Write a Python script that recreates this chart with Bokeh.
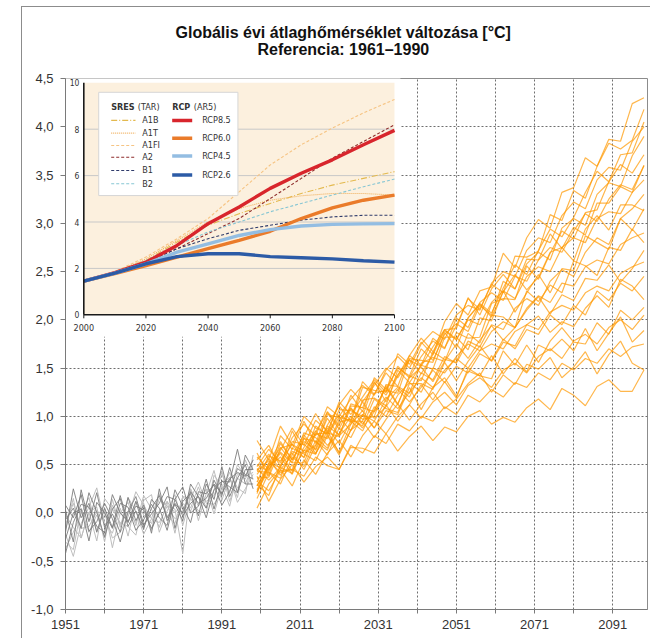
from bokeh.plotting import figure
from bokeh.models import Range1d, FixedTicker, Title, CustomJSTickFormatter
from bokeh.core.properties import value
from bokeh.embed import file_html
from bokeh.resources import INLINE

# ---------------- data ----------------
TITLE_1 = "Globális évi átlaghőmérséklet változása [°C]"
TITLE_2 = "Referencia: 1961–1990"

X_TICKS = [1951, 1961, 1971, 1981, 1991, 2001, 2011, 2021, 2031, 2041, 2051, 2061, 2071, 2081, 2091]
X_LABELS = ["1951", "", "1971", "", "1991", "", "2011", "", "2031", "", "2051", "", "2071", "", "2091"]
Y_TICKS = [-1.0, -0.5, 0.0, 0.5, 1.0, 1.5, 2.0, 2.5, 3.0, 3.5, 4.0, 4.5]

HIST_YEARS = [1951, 1953, 1955, 1957, 1959, 1961, 1963, 1965, 1967, 1969, 1971, 1973, 1975,
              1977, 1979, 1981, 1983, 1985, 1987, 1989, 1991, 1993, 1995, 1997, 1999]
HIST_DARK_1 = [0.03, -0.30, 0.24, -0.09, 0.21, -0.15, -0.01, -0.20, 0.16, -0.08, 0.08, -0.21, 0.25, -0.08, 0.09, -0.08, 0.30, 0.17, 0.05, 0.34, 0.18, 0.47, 0.21, 0.45, 0.45]
HIST_DARK_2 = [-0.07, 0.05, -0.16, 0.21, 0.01, -0.25, 0.04, 0.15, -0.14, 0.02, -0.17, 0.14, 0.05, -0.18, 0.14, 0.27, 0.00, 0.07, 0.35, 0.04, 0.33, 0.32, 0.66, 0.30, 0.30]
HIST_DARK_3 = [0.08, -0.05, 0.19, -0.19, -0.09, 0.10, -0.06, -0.30, 0.01, 0.17, -0.12, -0.01, 0.10, 0.27, -0.16, 0.12, 0.20, -0.03, 0.30, 0.14, 0.48, 0.17, 0.36, 0.50, 0.25]
HIST_DARK_4 = [-0.27, 0.00, 0.04, -0.29, 0.11, 0.00, -0.16, 0.10, 0.06, -0.18, -0.07, 0.09, -0.05, -0.13, 0.24, 0.07, -0.10, 0.22, 0.20, 0.29, 0.08, 0.22, 0.46, 0.40, 0.35]
HIST_DARK_5 = [-0.42, -0.10, 0.09, 0.06, -0.14, -0.20, 0.19, 0.00, -0.09, 0.07, 0.03, -0.16, 0.00, 0.17, 0.14, -0.03, 0.10, 0.17, -0.05, 0.24, 0.33, 0.27, 0.21, 0.60, 0.45]
HIST_DARK_6 = [-0.20, 0.25, -0.05, 0.10, -0.20, 0.05, -0.15, 0.18, -0.10, 0.12, -0.15, 0.05, 0.18, -0.05, 0.10, 0.00, 0.22, 0.10, 0.15, 0.30, 0.20, 0.35, 0.42, 0.38, 0.55]
HIST_LIGHT_1 = [-0.37, -0.20, -0.01, 0.16, -0.19, 0.05, -0.36, 0.00, 0.11, -0.13, 0.18, 0.04, -0.15, 0.12, -0.21, 0.17, 0.05, 0.27, 0.05, 0.24, 0.43, 0.12, 0.36, 0.30, 0.50]
HIST_LIGHT_2 = [-0.22, -0.45, -0.11, 0.06, 0.26, -0.10, -0.21, 0.05, -0.24, 0.12, -0.02, -0.11, 0.15, 0.07, -0.06, 0.02, 0.25, -0.08, 0.20, 0.44, 0.13, 0.37, 0.16, 0.55, 0.35]
HIST_LIGHT_3 = [-0.17, 0.15, -0.26, 0.01, -0.29, 0.15, 0.04, -0.10, -0.14, -0.23, 0.13, 0.19, -0.20, 0.02, 0.19, -0.13, 0.15, 0.32, 0.10, 0.09, 0.23, 0.42, 0.26, 0.20, 0.60]
HIST_LIGHT_4 = [-0.02, -0.15, -0.26, 0.01, 0.06, -0.30, 0.14, -0.15, 0.16, 0.02, -0.22, -0.06, 0.20, -0.03, -0.11, 0.17, 0.15, 0.02, 0.00, 0.39, 0.28, 0.07, 0.41, 0.35, 0.55]
HIST_LIGHT_5 = [-0.12, 0.10, -0.16, -0.14, 0.01, 0.00, -0.26, -0.20, -0.04, 0.22, 0.08, -0.06, -0.10, 0.07, 0.04, -0.42, 0.25, 0.07, 0.25, -0.01, 0.28, 0.37, 0.11, 0.25, 0.40]
HIST_LIGHT_6 = [-0.30, -0.38, 0.05, -0.20, -0.02, -0.25, 0.08, -0.12, 0.02, -0.10, 0.10, -0.18, 0.02, 0.12, 0.00, 0.10, 0.02, 0.20, 0.12, 0.18, 0.40, 0.22, 0.50, 0.38, 0.42]

PROJ_YEARS = [2000, 2003, 2006, 2009, 2012, 2015, 2018, 2021, 2024, 2027, 2030, 2033, 2036, 2039, 2042, 2045, 2048,
              2051, 2054, 2057, 2060, 2063, 2066, 2069, 2072, 2075, 2078, 2081, 2084, 2087, 2090, 2093, 2096, 2099]
PROJ_H1 = [0.50, 0.43, 0.72, 0.55, 0.79, 1.03, 0.83, 1.02, 0.94, 1.30, 1.27, 1.25, 1.65, 1.54, 1.77, 1.64, 1.98, 2.17, 2.05, 2.30, 2.34, 2.69, 2.54, 2.85, 3.04, 2.95, 3.32, 3.37, 3.68, 3.59, 3.87, 3.85, 4.24, 4.30]
PROJ_H2 = [0.32, 0.59, 0.54, 0.71, 0.57, 0.84, 1.04, 0.87, 1.11, 1.09, 1.36, 1.15, 1.42, 1.63, 1.53, 1.81, 1.71, 1.94, 2.22, 2.11, 2.37, 2.28, 2.66, 2.65, 2.71, 3.09, 3.03, 3.34, 3.26, 3.59, 3.83, 3.77, 3.86, 4.18]
PROJ_H3 = [0.44, 0.61, 0.45, 0.60, 0.81, 0.65, 0.91, 1.11, 0.95, 0.95, 1.24, 1.27, 1.24, 1.60, 1.58, 1.56, 1.87, 1.71, 2.02, 2.17, 2.07, 2.33, 2.57, 2.47, 2.72, 2.94, 2.86, 3.06, 3.32, 3.54, 3.43, 3.71, 3.73, 4.05]
PROJ_H4 = [0.28, 0.48, 0.63, 0.52, 0.83, 0.78, 0.67, 0.97, 1.08, 0.97, 1.00, 1.33, 1.31, 1.24, 1.55, 1.61, 1.57, 1.87, 1.81, 1.82, 2.17, 2.22, 2.21, 2.56, 2.42, 2.69, 2.92, 2.84, 3.11, 3.14, 3.43, 3.61, 3.52, 3.71]
PROJ_H5 = [0.62, 0.38, 0.80, 0.66, 0.95, 0.72, 1.05, 0.90, 1.22, 1.05, 1.40, 1.28, 1.50, 1.42, 1.70, 1.58, 1.85, 1.96, 1.88, 2.15, 2.05, 2.40, 2.32, 2.58, 2.70, 2.62, 2.95, 3.05, 2.98, 3.30, 3.42, 3.38, 3.70, 3.90]
PROJ_H6 = [0.48, 0.66, 0.52, 0.78, 0.92, 0.80, 1.10, 1.00, 1.18, 1.32, 1.22, 1.48, 1.62, 1.50, 1.75, 1.88, 1.80, 2.05, 2.15, 2.10, 2.38, 2.50, 2.45, 2.72, 2.85, 2.80, 3.08, 3.22, 3.15, 3.45, 3.58, 3.55, 3.85, 4.00]
PROJ_M1 = [0.28, 0.51, 0.74, 0.55, 0.74, 0.66, 1.02, 0.99, 0.96, 1.36, 1.23, 1.45, 1.31, 1.63, 1.81, 1.67, 1.90, 1.91, 2.23, 2.05, 2.32, 2.47, 2.32, 2.63, 2.62, 2.89, 2.74, 2.96, 2.88, 3.21, 3.21, 3.38, 3.32, 3.60]
PROJ_M2 = [0.36, 0.37, 0.67, 0.71, 0.64, 0.82, 0.77, 1.07, 1.06, 1.00, 1.35, 1.22, 1.43, 1.59, 1.44, 1.64, 1.89, 1.79, 2.02, 2.16, 2.03, 2.29, 2.47, 2.31, 2.44, 2.70, 2.75, 2.61, 2.94, 3.08, 2.93, 3.19, 3.19, 3.13]
PROJ_M3 = [0.40, 0.56, 0.39, 0.64, 0.58, 0.90, 0.81, 0.99, 0.85, 1.17, 1.19, 1.11, 1.48, 1.35, 1.53, 1.49, 1.82, 1.82, 1.69, 2.02, 1.99, 2.30, 2.08, 2.28, 2.47, 2.28, 2.53, 2.51, 2.87, 2.80, 2.73, 3.05, 2.93, 3.15]
PROJ_M4 = [0.46, 0.34, 0.47, 0.74, 0.71, 0.61, 0.90, 0.81, 1.09, 0.92, 1.07, 1.30, 1.12, 1.42, 1.37, 1.67, 1.59, 1.56, 1.86, 1.76, 2.05, 2.03, 1.92, 2.30, 2.19, 2.36, 2.28, 2.61, 2.56, 2.46, 2.75, 2.72, 2.94, 2.80]
PROJ_M5 = [0.15, 0.42, 0.30, 0.58, 0.48, 0.75, 0.60, 0.88, 0.78, 1.02, 0.95, 1.18, 1.30, 1.20, 1.45, 1.38, 1.62, 1.55, 1.78, 1.72, 1.95, 1.90, 2.12, 2.22, 2.15, 2.40, 2.52, 2.45, 2.70, 2.85, 2.78, 3.05, 3.15, 3.30]
PROJ_M6 = [0.75, 0.55, 0.90, 0.70, 1.00, 0.88, 0.82, 1.15, 1.02, 1.20, 1.38, 1.25, 1.52, 1.40, 1.62, 1.78, 1.70, 2.02, 1.92, 2.18, 2.28, 2.20, 2.45, 2.40, 2.62, 2.75, 2.70, 2.92, 3.10, 3.02, 3.25, 3.40, 3.35, 3.60]
PROJ_M7 = [0.30, 0.18, 0.50, 0.62, 0.45, 0.70, 0.88, 0.72, 0.95, 0.85, 1.10, 1.00, 1.22, 1.35, 1.25, 1.50, 1.45, 1.62, 1.75, 1.68, 1.88, 1.98, 1.92, 2.12, 2.25, 2.18, 2.38, 2.35, 2.55, 2.62, 2.58, 2.78, 2.85, 2.90]
PROJ_M8 = [0.58, 0.45, 0.65, 0.88, 0.70, 0.96, 0.85, 1.12, 1.28, 1.15, 1.32, 1.50, 1.40, 1.58, 1.52, 1.72, 1.90, 1.80, 2.00, 1.95, 2.18, 2.30, 2.22, 2.45, 2.55, 2.50, 2.75, 2.85, 2.80, 3.05, 3.12, 3.10, 3.32, 3.45]
PROJ_L1 = [0.24, 0.49, 0.68, 0.52, 0.52, 0.82, 0.83, 0.79, 1.13, 1.09, 1.05, 1.32, 1.13, 1.40, 1.51, 1.36, 1.57, 1.75, 1.60, 1.79, 1.94, 1.79, 1.92, 2.10, 2.24, 2.06, 2.26, 2.20, 2.43, 2.41, 2.57, 2.39, 2.53, 2.72]
PROJ_L2 = [0.44, 0.54, 0.42, 0.45, 0.77, 0.74, 0.65, 0.94, 0.97, 0.90, 1.18, 1.08, 1.04, 1.34, 1.34, 1.28, 1.56, 1.37, 1.57, 1.73, 1.57, 1.77, 1.73, 1.95, 2.04, 1.87, 1.98, 1.93, 2.12, 2.25, 2.13, 2.42, 2.35, 2.21]
PROJ_L3 = [0.22, 0.45, 0.62, 0.43, 0.65, 0.61, 0.85, 0.62, 0.86, 1.02, 0.88, 1.12, 0.95, 1.12, 1.33, 1.17, 1.36, 1.19, 1.50, 1.42, 1.39, 1.68, 1.53, 1.74, 1.56, 1.78, 1.92, 1.77, 1.75, 1.97, 1.85, 2.10, 2.00, 2.13]
PROJ_L4 = [0.20, 0.52, 0.47, 0.41, 0.78, 0.62, 0.81, 0.63, 0.92, 1.06, 0.88, 1.06, 1.02, 1.30, 1.07, 1.30, 1.40, 1.21, 1.47, 1.42, 1.63, 1.44, 1.60, 1.46, 1.74, 1.68, 1.80, 1.68, 1.91, 1.68, 1.86, 2.03, 1.77, 1.89]
PROJ_L5 = [0.43, 0.42, 0.36, 0.67, 0.61, 0.54, 0.80, 0.60, 0.86, 0.95, 0.78, 0.97, 1.13, 0.96, 1.13, 1.25, 1.08, 1.18, 1.34, 1.45, 1.25, 1.43, 1.33, 1.54, 1.49, 1.61, 1.40, 1.51, 1.67, 1.44, 1.64, 1.78, 1.55, 1.48]
PROJ_L6 = [0.33, 0.23, 0.44, 0.45, 0.38, 0.58, 0.49, 0.45, 0.68, 0.67, 0.62, 0.82, 0.64, 0.79, 0.90, 0.75, 0.89, 0.84, 1.00, 1.06, 0.92, 0.99, 0.94, 1.09, 1.18, 1.07, 1.29, 1.22, 1.11, 1.31, 1.38, 1.26, 1.26, 1.48]
PROJ_L7 = [0.55, 0.70, 0.48, 0.85, 0.62, 0.70, 0.98, 0.80, 0.92, 1.15, 0.98, 1.10, 1.28, 1.15, 1.30, 1.48, 1.35, 1.52, 1.45, 1.65, 1.58, 1.80, 1.70, 1.90, 1.85, 2.05, 1.95, 2.15, 2.05, 2.30, 2.20, 2.38, 2.30, 2.45]
PROJ_L8 = [0.05, 0.30, 0.45, 0.28, 0.55, 0.40, 0.62, 0.75, 0.58, 0.80, 0.95, 0.82, 1.00, 1.12, 0.98, 1.15, 1.25, 1.12, 1.32, 1.40, 1.30, 1.48, 1.55, 1.45, 1.62, 1.70, 1.60, 1.78, 1.85, 1.75, 1.92, 2.00, 1.90, 2.05]
PROJ_L9 = [0.38, 0.12, 0.35, 0.50, 0.32, 0.48, 0.58, 0.45, 0.70, 0.62, 0.80, 0.72, 0.92, 0.85, 1.00, 0.95, 1.10, 1.02, 1.22, 1.15, 1.28, 1.20, 1.35, 1.30, 1.45, 1.38, 1.55, 1.48, 1.60, 1.55, 1.70, 1.62, 1.72, 1.75]
PROJ_L10 = [0.22, 0.48, 0.58, 0.40, 0.68, 0.85, 0.70, 0.82, 1.00, 0.88, 1.05, 1.20, 1.08, 1.25, 1.40, 1.30, 1.48, 1.60, 1.50, 1.68, 1.75, 1.70, 1.88, 1.95, 1.90, 2.08, 2.15, 2.10, 2.28, 2.35, 2.30, 2.48, 2.55, 2.60]

# inset (IPCC style scenarios)
INSET_YEARS = [2000, 2010, 2020, 2030, 2040, 2050, 2060, 2070, 2080, 2090, 2100]
SRES_A1B = [1.45, 1.84, 2.34, 3.14, 3.86, 4.36, 4.80, 5.23, 5.59, 5.88, 6.17]
SRES_A1T = [1.45, 1.84, 2.41, 3.21, 4.00, 4.58, 4.94, 5.13, 5.23, 5.23, 5.16]
SRES_A1FI = [1.45, 1.86, 2.49, 3.28, 4.15, 5.30, 6.46, 7.33, 8.05, 8.70, 9.28]
SRES_A2 = [1.45, 1.82, 2.27, 2.85, 3.50, 4.15, 5.01, 5.88, 6.75, 7.47, 8.19]
SRES_B1 = [1.45, 1.82, 2.27, 2.85, 3.28, 3.64, 3.86, 4.08, 4.22, 4.29, 4.29]
SRES_B2 = [1.45, 1.83, 2.34, 2.99, 3.57, 4.00, 4.44, 4.80, 5.16, 5.52, 5.85]
RCP_85 = [1.45, 1.82, 2.27, 2.99, 3.93, 4.65, 5.45, 6.10, 6.68, 7.33, 7.95]
RCP_60 = [1.45, 1.78, 2.12, 2.49, 2.85, 3.21, 3.60, 4.15, 4.61, 4.94, 5.16]
RCP_45 = [1.45, 1.80, 2.20, 2.70, 3.06, 3.42, 3.67, 3.83, 3.90, 3.92, 3.93]
RCP_26 = [1.45, 1.80, 2.20, 2.51, 2.63, 2.63, 2.51, 2.46, 2.41, 2.33, 2.27]
SRES_NAMES = ["A1B", "A1T", "A1FI", "A2", "B1", "B2"]
RCP_NAMES = ["RCP8.5", "RCP6.0", "RCP4.5", "RCP2.6"]
INSET_X_TICKS = [2000, 2020, 2040, 2060, 2080, 2100]
INSET_Y_TICKS = [0, 2, 4, 6, 8, 10]
INSET_GRID = [2, 4, 6, 8]

# ---------------- styles ----------------
FONT = "Liberation Sans"
IFONT = "DejaVu Sans Condensed"
SRES_COLORS = ["#e3b94e", "#f0b05c", "#f6c483", "#8e2b2b", "#2f3b6b", "#86c6d4"]
SRES_DASH = ["6 2 1 2", "1 1", "3 2", "3 2", "3 2", "3 2"]
RCP_COLORS = ["#d8252c", "#ea7b2a", "#93bde2", "#2c5ba6"]

p = figure(width=650, height=638, output_backend="svg", toolbar_location=None,
           x_range=Range1d(1951, 2099.9), y_range=Range1d(-1.0, 4.5),
           min_border_left=65, min_border_right=3, min_border_top=78, min_border_bottom=29)
p.extra_x_ranges = {"ix": Range1d(1994.11, 2181.43)}
p.extra_y_ranges = {"iy": Range1d(-12.70, 10.185)}

# title: second line nearest the frame, first line above it
p.add_layout(Title(text=TITLE_2, align="left", offset=192, text_font=FONT, text_font_size="16px",
                   text_font_style="bold", text_color="#111111", standoff=42), "above")
p.add_layout(Title(text=TITLE_1, align="left", offset=110, text_font=FONT, text_font_size="16px",
                   text_font_style="bold", text_color="#111111", standoff=-47), "above")

# outer chart-area border (drawn behind the transparent canvas margin)
p.border_fill_alpha = 0
p.styles = {"background": "linear-gradient(#8c8c8c, #8c8c8c) 21px 6px / 1px 100% no-repeat, "
                          "linear-gradient(#8c8c8c, #8c8c8c) 21px 6px / 100% 1px no-repeat, white"}

p.outline_line_color = "#8c8c8c"
p.background_fill_color = "white"

p.xaxis.ticker = FixedTicker(ticks=X_TICKS)
p.xaxis.major_label_overrides = dict(zip(X_TICKS, X_LABELS))
p.yaxis.ticker = FixedTicker(ticks=Y_TICKS)
p.yaxis.formatter = CustomJSTickFormatter(code="return tick.toFixed(1).replace('.', ',');")
for ax in (p.xaxis[0], p.yaxis[0]):
    ax.axis_line_color = "#7a7a7a"
    ax.major_tick_line_color = "#7a7a7a"
    ax.minor_tick_line_color = None
    ax.major_tick_in = 0
    ax.major_tick_out = 5
    ax.major_label_text_font = FONT
    ax.major_label_text_font_size = "13px"
    ax.major_label_text_color = "#333333"
p.xaxis.major_tick_out = 4
p.xaxis.major_label_standoff = 6
p.yaxis.major_label_standoff = 7

p.xgrid.ticker = FixedTicker(ticks=X_TICKS)
p.ygrid.ticker = FixedTicker(ticks=Y_TICKS)
for g in (p.xgrid[0], p.ygrid[0]):
    g.grid_line_color = "#6e6e6e"
    g.grid_line_dash = "2 2"
    g.grid_line_width = 1

# historical runs
for ys in [HIST_LIGHT_1, HIST_LIGHT_2, HIST_LIGHT_3, HIST_LIGHT_4, HIST_LIGHT_5, HIST_LIGHT_6]:
    p.line(HIST_YEARS, ys, line_color="#bdbdbd", line_width=1)
for ys in [HIST_DARK_1, HIST_DARK_2, HIST_DARK_3, HIST_DARK_4, HIST_DARK_5, HIST_DARK_6]:
    p.line(HIST_YEARS, ys, line_color="#7d7d7d", line_width=1, line_alpha=0.9)

# projections
for ys in [PROJ_H1, PROJ_H2, PROJ_H3, PROJ_H4, PROJ_H5, PROJ_H6,
           PROJ_M1, PROJ_M2, PROJ_M3, PROJ_M4, PROJ_M5, PROJ_M6, PROJ_M7, PROJ_M8,
           PROJ_L1, PROJ_L2, PROJ_L3, PROJ_L4, PROJ_L5, PROJ_L6, PROJ_L7, PROJ_L8, PROJ_L9, PROJ_L10]:
    p.line(PROJ_YEARS, ys, line_color="#ff9900", line_width=1.2, line_alpha=0.7)

# ---------------- inset ----------------
R = dict(x_range_name="ix", y_range_name="iy")
p.quad(left=[1990], right=[2101.9], bottom=[-0.94], top=[11], fill_color="white", line_color=None, **R)
p.quad(left=[2000], right=[2100], bottom=[0], top=[10], fill_color="#fcf0de", line_color=None, **R)
p.segment(x0=[2000] * len(INSET_GRID), x1=[2100] * len(INSET_GRID), y0=INSET_GRID, y1=INSET_GRID,
          line_color="#c8c8c8", line_width=1, **R)

for ys, c, d in zip([SRES_A1B, SRES_A1T, SRES_A1FI, SRES_A2, SRES_B1, SRES_B2], SRES_COLORS, SRES_DASH):
    p.line(INSET_YEARS, ys, line_color=c, line_dash=d, line_width=1.1, **R)
for ys, c in zip([RCP_85, RCP_60, RCP_45, RCP_26], RCP_COLORS):
    p.line(INSET_YEARS, ys, line_color=c, line_width=3.4, **R)

# inset axes
p.segment(x0=[2000, 2000], x1=[2100, 2000], y0=[0, 0], y1=[0, 10], line_color="#1a1a1a", line_width=1.6, **R)
p.segment(x0=INSET_X_TICKS, x1=INSET_X_TICKS, y0=[0] * len(INSET_X_TICKS), y1=[-0.15] * len(INSET_X_TICKS),
          line_color="#1a1a1a", line_width=1, **R)
p.text(x=INSET_X_TICKS, y=[-0.56] * len(INSET_X_TICKS), text=[str(t) for t in INSET_X_TICKS],
       text_font=value(IFONT), text_font_size="9px", text_color="#333333",
       text_align="center", text_baseline="middle", **R)
p.text(x=[1998.6] * len(INSET_Y_TICKS), y=INSET_Y_TICKS, text=[str(t) for t in INSET_Y_TICKS],
       text_font=value(IFONT), text_font_size="8.5px", text_color="#333333",
       text_align="right", text_baseline="middle", **R)

# inset legend
p.quad(left=[2004.8], right=[2049.6], bottom=[5.14], top=[9.59], fill_color="white",
       line_color="#d6d6d6", line_width=1, **R)
p.text(x=[2008.82, 2028.45], y=[8.95, 8.95], text=["SRES", "RCP"], text_font=value(IFONT),
       text_font_size="9px", text_font_style="bold", text_color="#333333",
       text_align="left", text_baseline="middle", **R)
p.text(x=[2017.4, 2035.4], y=[8.95, 8.95], text=["(TAR)", "(AR5)"], text_font=value(IFONT),
       text_font_size="9px", text_color="#333333", text_align="left", text_baseline="middle", **R)
sres_rows = [8.38, 7.83, 7.30, 6.79, 6.22, 5.65]
for yy, c, d in zip(sres_rows, SRES_COLORS, SRES_DASH):
    p.line([2008.82, 2016.64], [yy, yy], line_color=c, line_dash=d, line_width=1.1, **R)
p.text(x=[2018.8] * len(SRES_NAMES), y=sres_rows, text=SRES_NAMES, text_font=value(IFONT),
       text_font_size="9px", text_color="#333333", text_align="left", text_baseline="middle", **R)
rcp_rows = [8.38, 7.61, 6.84, 6.03]
for yy, c in zip(rcp_rows, RCP_COLORS):
    p.line([2028.45, 2034.89], [yy, yy], line_color=c, line_width=3.5, **R)
p.text(x=[2038.1] * len(RCP_NAMES), y=rcp_rows, text=RCP_NAMES, text_font=value(IFONT),
       text_font_size="9px", text_color="#333333", text_align="left", text_baseline="middle", **R)

open("out.html", "w").write(file_html(p, INLINE))
